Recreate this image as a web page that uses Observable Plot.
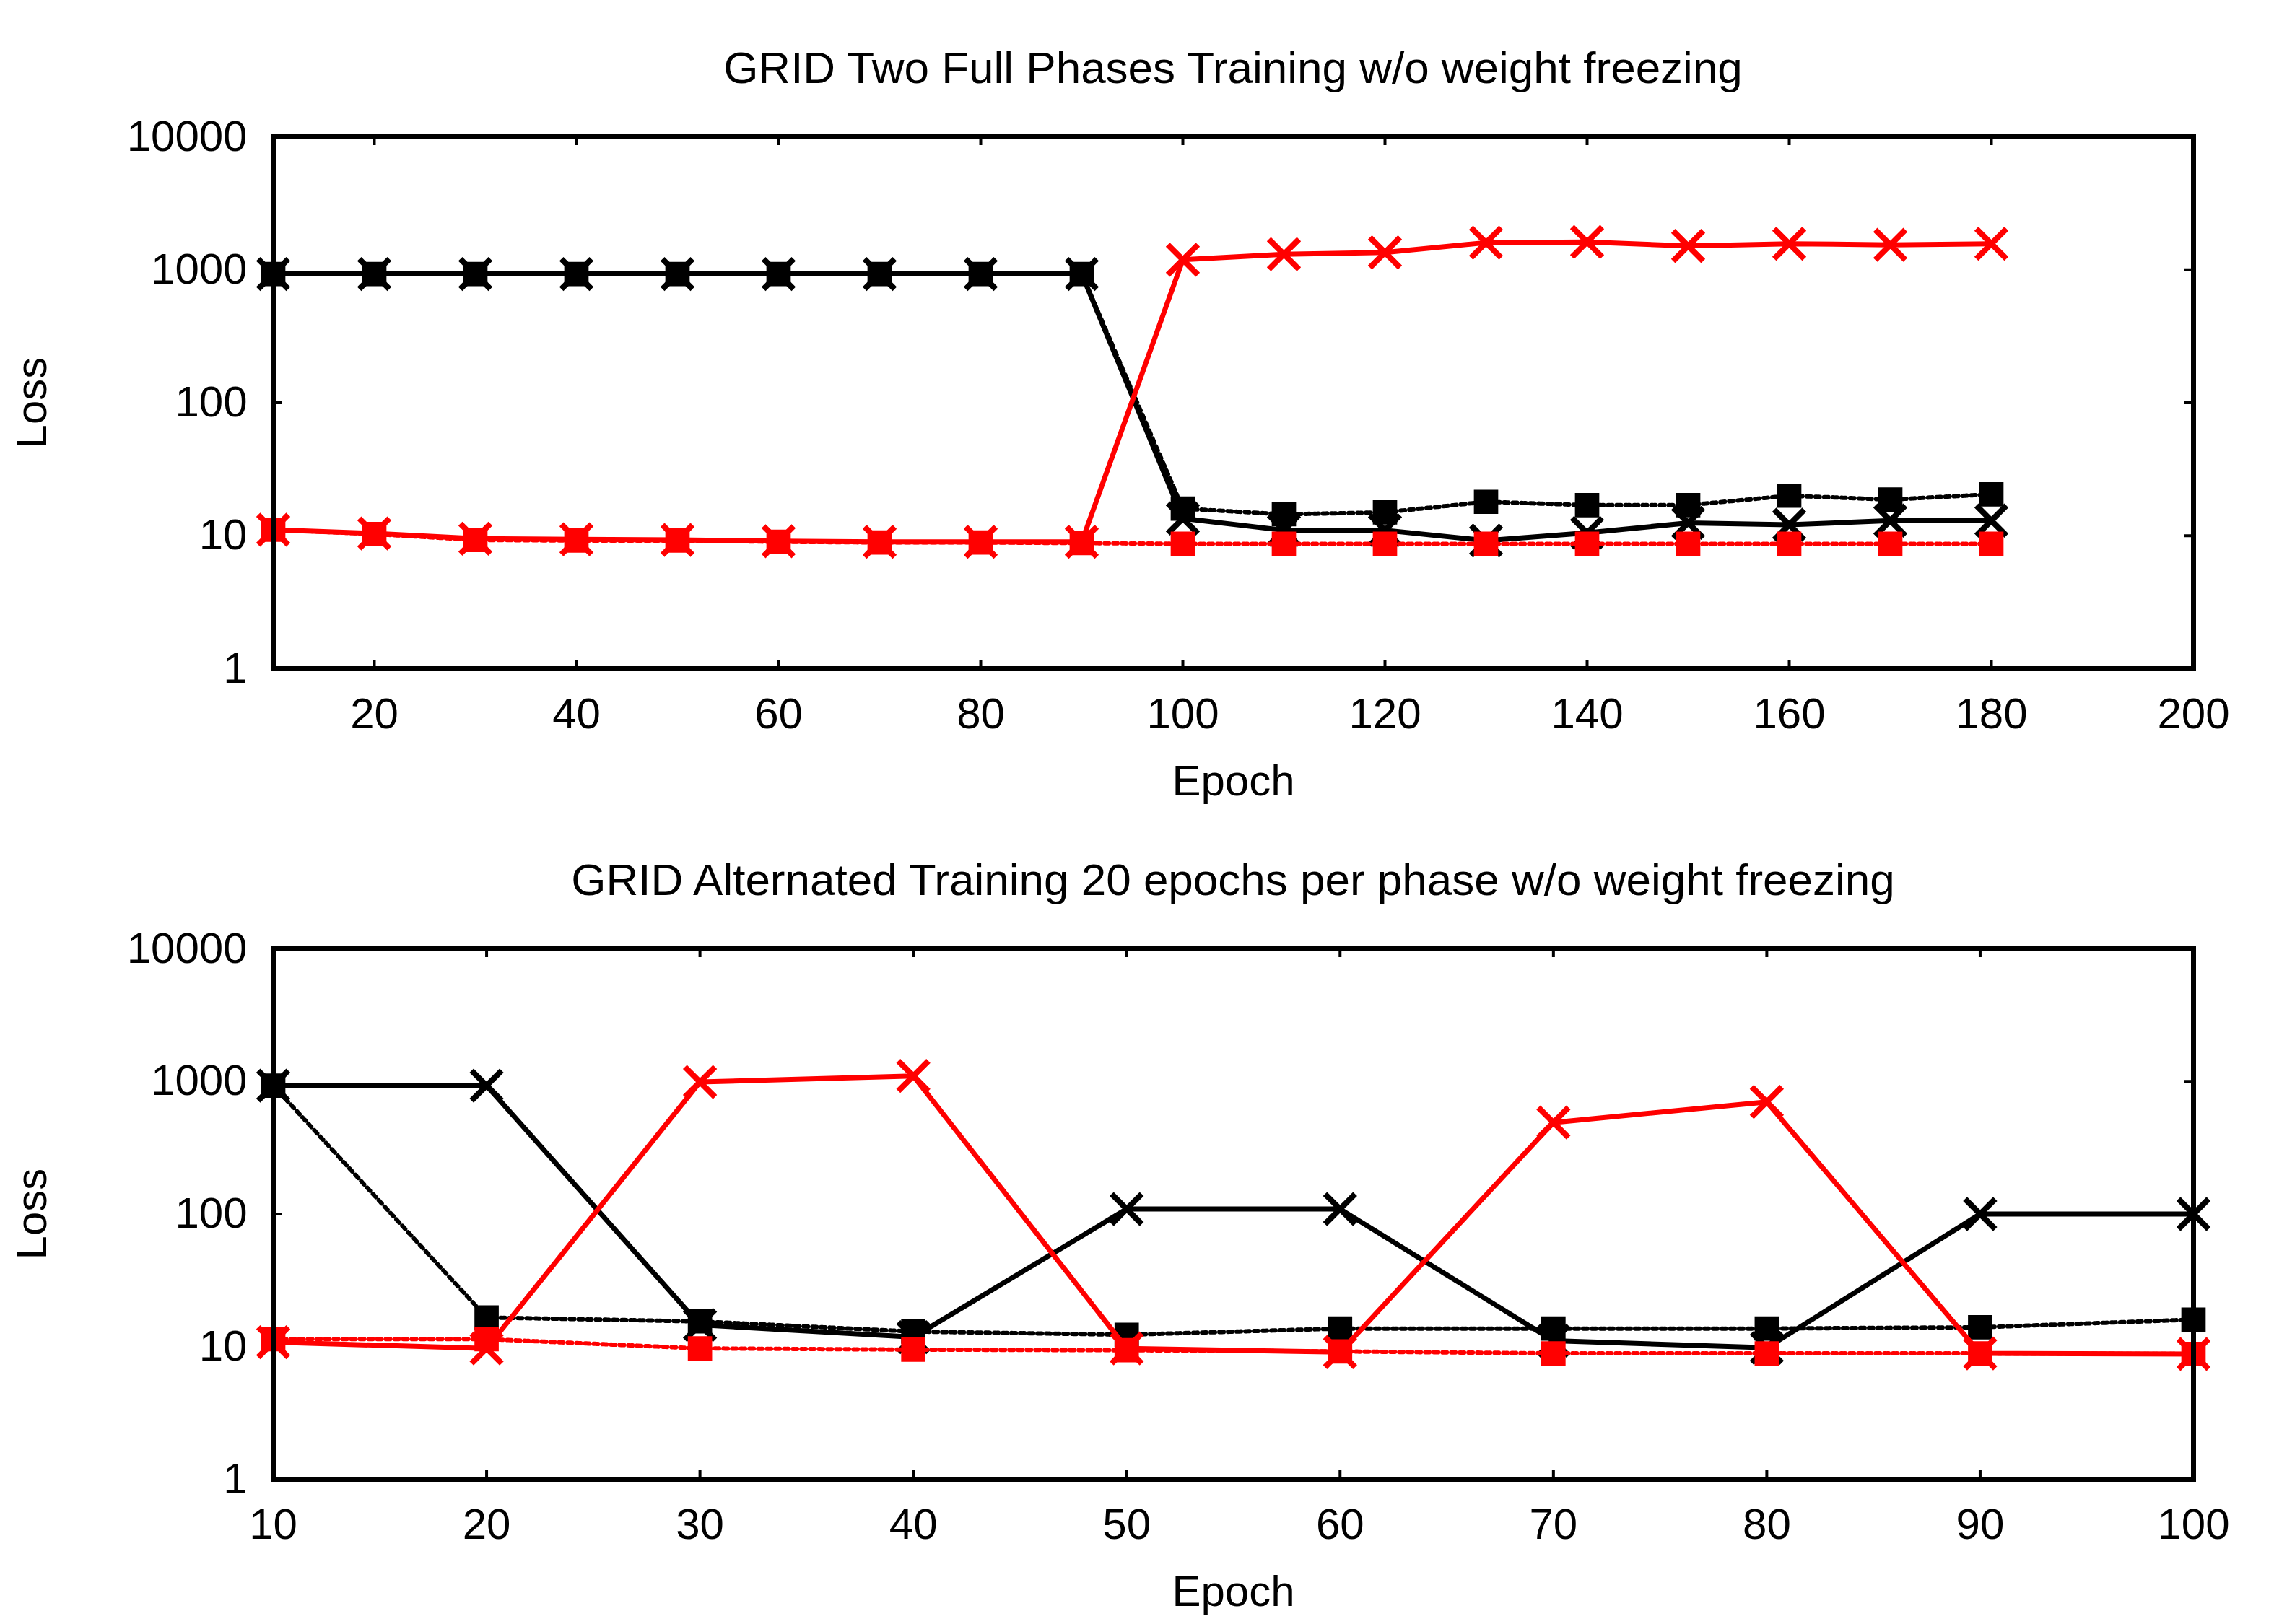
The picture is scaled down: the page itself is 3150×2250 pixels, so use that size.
<!DOCTYPE html>
<html>
<head>
<meta charset="utf-8">
<script src="https://cdn.jsdelivr.net/npm/d3@7"></script>
<script src="https://cdn.jsdelivr.net/npm/@observablehq/plot@0.6"></script>
<style>
html, body { margin: 0; padding: 0; background: #fff; }
#page { position: relative; width: 3150px; height: 2250px; background: #fff; overflow: hidden;
  font-family: "Liberation Sans", Arial, Helvetica, sans-serif; color: #000; }
.title { position: absolute; left: 378px; width: 2660px; text-align: center; font-size: 62px; line-height: 62px; white-space: nowrap; }
.panel { position: absolute; left: 0; }
</style>
</head>
<body>
<div id="page">
  <div class="title" id="t1" style="top:63px"></div>
  <div class="panel" id="p1" style="top:140px"></div>
  <div class="title" id="t2" style="top:1188px"></div>
  <div class="panel" id="p2" style="top:1265px"></div>
</div>
<script>
// ---------- data ----------
const title1 = "GRID Two Full Phases Training w/o weight freezing";
const title2 = "GRID Alternated Training 20 epochs per phase w/o weight freezing";
const xLabel = "Epoch";
const yLabel = "Loss";

const yTicks = [1, 10, 100, 1000, 10000];
const xTicksTop = [20, 40, 60, 80, 100, 120, 140, 160, 180, 200];
const xTicksBottom = [10, 20, 30, 40, 50, 60, 70, 80, 90, 100];

const epochsTop = [10, 20, 30, 40, 50, 60, 70, 80, 90, 100, 110, 120, 130, 140, 150, 160, 170, 180];
const topBlackSolid  = [930, 930, 930, 930, 930, 930, 930, 930, 930, 13.5, 11, 11, 9.2, 10.5, 12.5, 12.1, 13, 13];
const topBlackDotted = [930, 930, 930, 930, 930, 930, 930, 930, 930, 16, 14.5, 15, 18, 17, 17, 20, 18.7, 20.5];
const topRedSolid    = [11.1, 10.4, 9.5, 9.4, 9.3, 9.1, 9.0, 9.0, 9.0, 1190, 1310, 1350, 1600, 1620, 1510, 1570, 1540, 1570];
const topRedDotted   = [11.1, 10.3, 9.3, 9.2, 9.2, 9.0, 8.9, 8.9, 8.8, 8.7, 8.7, 8.7, 8.7, 8.7, 8.7, 8.7, 8.7, 8.7];

const epochsBottom = [10, 20, 30, 40, 50, 60, 70, 80, 90, 100];
const botBlackSolid  = [930, 930, 14.6, 11.8, 109, 109, 11.1, 9.8, 100, 100];
const botBlackDotted = [930, 16.6, 15.5, 13, 12.3, 13.7, 13.7, 13.7, 14, 16];
const botRedSolid    = [10.8, 9.7, 990, 1100, 9.7, 9.1, 490, 700, 8.9, 8.8];
const botRedDotted   = [11.4, 11.4, 9.7, 9.5, 9.4, 9.2, 8.9, 8.9, 8.9, 8.8];

// ---------- drawing ----------
const FONT = "'Liberation Sans', Arial, Helvetica, sans-serif";
const W = 3150, ML = 378, MR = 112, MT = 49;
const plotW = W - ML - MR;
const DOTTED = "2,2,2,6";

function seriesMarks(epochs, values, color, kind) {
  const data = epochs.map((e, i) => ({epoch: e, v: values[i]}));
  const marks = [];
  if (kind === "solid") {
    marks.push(Plot.line(data, {x: "epoch", y: "v", stroke: color, strokeWidth: 7}));
    marks.push(Plot.dot(data, {x: "epoch", y: "v", symbol: "times", r: 19, stroke: color, strokeWidth: 8, fill: "none"}));
  } else {
    marks.push(Plot.line(data, {x: "epoch", y: "v", stroke: color, strokeWidth: 6, strokeDasharray: DOTTED}));
    marks.push(Plot.dot(data, {x: "epoch", y: "v", symbol: "square", r: 19, fill: color, stroke: "none"}));
  }
  return marks;
}

function panel({epochs, bs, bd, rs, rd, xDomain, xTicks, height, marginBottom}) {
  const plotH = height - MT - marginBottom;
  return Plot.plot({
    width: W,
    height,
    marginLeft: ML,
    marginRight: MR,
    marginTop: MT,
    marginBottom,
    style: {fontFamily: FONT, fontSize: "60px", background: "#fff", color: "#000", overflow: "visible"},
    x: {domain: xDomain},
    y: {type: "log", domain: [1, 10000]},
    marks: [
      Plot.tickY(yTicks, {y: d => d, insetRight: plotW - 12, stroke: "#000", strokeWidth: 4}),
      Plot.tickY(yTicks, {y: d => d, insetLeft: plotW - 12, stroke: "#000", strokeWidth: 4}),
      Plot.tickX(xTicks, {x: d => d, insetTop: plotH - 12, stroke: "#000", strokeWidth: 4}),
      Plot.tickX(xTicks, {x: d => d, insetBottom: plotH - 12, stroke: "#000", strokeWidth: 4}),
      Plot.axisX({anchor: "bottom", ticks: xTicks, tickSize: 0, tickPadding: 40, label: null,
                  tickFormat: d => String(d), fontSize: 60, fontFamily: FONT}),
      Plot.axisY({anchor: "left", ticks: yTicks, tickSize: 0, tickPadding: 36, label: null,
                  tickFormat: d => String(d), fontSize: 60, fontFamily: FONT}),
      ...seriesMarks(epochs, bs, "#000000", "solid"),
      ...seriesMarks(epochs, bd, "#000000", "dotted"),
      ...seriesMarks(epochs, rs, "#ff0000", "solid"),
      ...seriesMarks(epochs, rd, "#ff0000", "dotted"),
      Plot.frame({stroke: "#000", strokeWidth: 7}),
      Plot.text([xLabel], {text: d => d, frameAnchor: "bottom", dy: 175, textAnchor: "middle", fontSize: 60, fontFamily: FONT, fill: "#000"}),
      Plot.text([yLabel], {text: d => d, frameAnchor: "left", dx: -334, rotate: -90, textAnchor: "middle", lineAnchor: "middle", fontSize: 60, fontFamily: FONT, fill: "#000"})
    ]
  });
}

document.getElementById("t1").textContent = title1;
document.getElementById("t2").textContent = title2;

document.getElementById("p1").appendChild(panel({
  epochs: epochsTop, bs: topBlackSolid, bd: topBlackDotted, rs: topRedSolid, rd: topRedDotted,
  xDomain: [10, 200], xTicks: xTicksTop, height: 1000, marginBottom: 214
}));
document.getElementById("p2").appendChild(panel({
  epochs: epochsBottom, bs: botBlackSolid, bd: botBlackDotted, rs: botRedSolid, rd: botRedDotted,
  xDomain: [10, 100], xTicks: xTicksBottom, height: 985, marginBottom: 201
}));
</script>
</body>
</html>
